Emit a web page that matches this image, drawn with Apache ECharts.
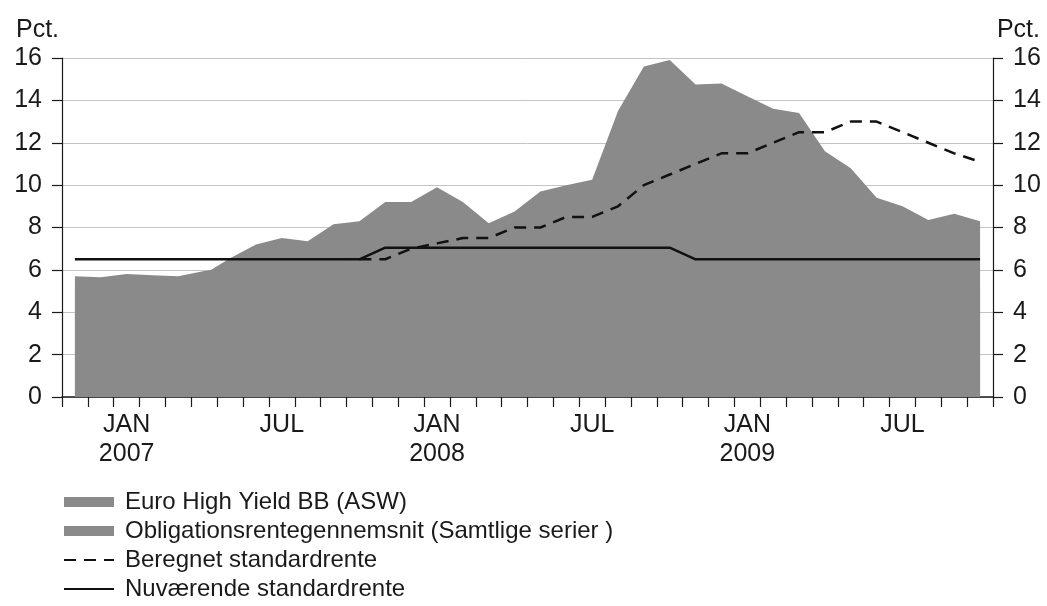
<!DOCTYPE html>
<html>
<head>
<meta charset="utf-8">
<script src="https://cdn.jsdelivr.net/npm/echarts@6/dist/echarts.min.js"></script>
<style>
  html, body { margin: 0; padding: 0; background: #fff; }
  #main { width: 1047px; height: 606px; }
</style>
</head>
<body>
<div id="main"></div>
<script>
// months, one point per month (mid-month)
var months = [
  '2006-11', '2006-12',
  '2007-01', '2007-02', '2007-03', '2007-04', '2007-05', '2007-06',
  '2007-07', '2007-08', '2007-09', '2007-10', '2007-11', '2007-12',
  '2008-01', '2008-02', '2008-03', '2008-04', '2008-05', '2008-06',
  '2008-07', '2008-08', '2008-09', '2008-10', '2008-11', '2008-12',
  '2009-01', '2009-02', '2009-03', '2009-04', '2009-05', '2009-06',
  '2009-07', '2009-08', '2009-09', '2009-10'
];

// Euro High Yield BB (ASW)
var highYield = [
  5.2, 5.2, 5.4, 5.5, 5.5, 5.8, 6.55, 7.2, 7.5, 7.35, 8.15, 8.3,
  9.2, 9.2, 9.9, 9.2, 8.2, 8.75, 9.7, 10.0, 10.25, 13.5, 15.6, 15.9,
  14.75, 14.8, 14.2, 13.6, 13.4, 11.6, 10.8, 9.4, 9.0, 8.35, 8.65, 8.3
];

// Obligationsrentegennemsnit (Samtlige serier) - mostly hidden behind the other area
var bondAvg = [
  5.7, 5.65, 5.8, 5.75, 5.7, 5.95, 6.1, 6.2, 6.3, 6.3, 6.4, 6.5,
  6.5, 6.4, 6.3, 6.4, 6.5, 6.6, 6.7, 6.6, 6.5, 6.6, 6.4, 6.2,
  5.9, 5.5, 5.3, 5.2, 5.3, 5.4, 5.6, 5.5, 5.4, 5.3, 5.2, 5.1
];

// Beregnet standardrente
var calcRate = [
  null, null, null, null, null, null, null, null, null, null, null, 6.5,
  6.5, 7.0, 7.25, 7.5, 7.5, 8.0, 8.0, 8.5, 8.5, 9.0, 10.0, 10.5,
  11.0, 11.5, 11.5, 12.0, 12.5, 12.5, 13.0, 13.0, 12.5, 12.0, 11.5, 11.1
];

// Nuværende standardrente
var currentRate = [
  6.5, 6.5, 6.5, 6.5, 6.5, 6.5, 6.5, 6.5, 6.5, 6.5, 6.5, 6.5,
  7.05, 7.05, 7.05, 7.05, 7.05, 7.05, 7.05, 7.05, 7.05, 7.05, 7.05, 7.05,
  6.5, 6.5, 6.5, 6.5, 6.5, 6.5, 6.5, 6.5, 6.5, 6.5, 6.5, 6.5
];

var yTicks = { min: 0, max: 16, interval: 2 };

var font = 'Liberation Sans, Arial, Helvetica, sans-serif';
var ink = '#1a1a1a';
var areaGrey = '#8a8a8a';

var chart = echarts.init(document.getElementById('main'), null, { renderer: 'canvas' });

function monthLabel(val) {
  var parts = val.split('-');
  if (parts[1] === '01') return 'JAN\n' + parts[0];
  if (parts[1] === '07') return 'JUL';
  return '';
}

function valueAxis(pos, showSplit) {
  return {
    type: 'value',
    position: pos,
    min: yTicks.min,
    max: yTicks.max,
    interval: yTicks.interval,
    axisLine: { show: true, lineStyle: { color: ink, width: 1.2 } },
    axisTick: { show: true, length: 10, lineStyle: { color: ink, width: 1.2 } },
    axisLabel: { color: ink, fontSize: 25, fontFamily: font, margin: 20 },
    splitLine: { show: showSplit, lineStyle: { color: '#c4c4c4', width: 1 } }
  };
}

var option = {
  animation: false,
  backgroundColor: '#fff',
  textStyle: { fontFamily: font },
  title: [
    { text: 'Pct.', left: 11, top: 13, textStyle: { fontSize: 25, fontWeight: 'normal', color: ink, fontFamily: font } },
    { text: 'Pct.', right: 2, top: 13, textStyle: { fontSize: 25, fontWeight: 'normal', color: ink, fontFamily: font } }
  ],
  grid: { left: 62, right: 54, top: 58, bottom: 209, containLabel: false },
  legend: {
    orient: 'vertical',
    left: 63,
    top: 490,
    padding: 0,
    itemWidth: 50,
    itemHeight: 10,
    itemGap: 5,
    selectedMode: false,
    textStyle: { fontSize: 24, lineHeight: 24, color: ink, fontFamily: font, padding: [0, 0, 0, 6] },
    data: [
      { name: 'Euro High Yield BB (ASW)', icon: 'rect' },
      { name: 'Obligationsrentegennemsnit (Samtlige serier )', icon: 'rect' },
      { name: 'Beregnet standardrente', itemStyle: { opacity: 0 } },
      { name: 'Nuværende standardrente', itemStyle: { opacity: 0 } }
    ]
  },
  xAxis: {
    type: 'category',
    data: months,
    boundaryGap: true,
    axisLine: { show: true, lineStyle: { color: ink, width: 1.5 } },
    axisTick: { show: true, interval: 0, length: 10, alignWithLabel: false, lineStyle: { color: ink, width: 1.2 } },
    axisLabel: {
      interval: 0,
      formatter: monthLabel,
      color: ink,
      fontSize: 25,
      lineHeight: 29,
      fontFamily: font,
      margin: 14
    },
    splitLine: { show: false }
  },
  yAxis: [valueAxis('left', true), valueAxis('right', false)],
  series: [
    {
      name: 'Euro High Yield BB (ASW)',
      type: 'line',
      data: highYield,
      symbol: 'none',
      itemStyle: { color: areaGrey },
      lineStyle: { width: 0, color: areaGrey },
      areaStyle: { color: areaGrey, opacity: 1 }
    },
    {
      name: 'Obligationsrentegennemsnit (Samtlige serier )',
      type: 'line',
      data: bondAvg,
      symbol: 'none',
      itemStyle: { color: areaGrey },
      lineStyle: { width: 0, color: areaGrey },
      areaStyle: { color: areaGrey, opacity: 1 }
    },
    {
      name: 'Beregnet standardrente',
      type: 'line',
      data: calcRate,
      symbol: 'none',
      itemStyle: { color: '#111' },
      lineStyle: { color: '#111', width: 2.5, type: [12, 8] }
    },
    {
      name: 'Nuværende standardrente',
      type: 'line',
      data: currentRate,
      symbol: 'none',
      itemStyle: { color: '#111' },
      lineStyle: { color: '#111', width: 2.5 }
    }
  ]
};

chart.setOption(option);
</script>
</body>
</html>
